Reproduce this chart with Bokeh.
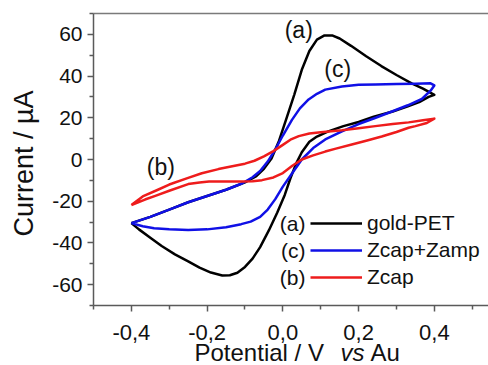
import math
from bokeh.plotting import figure
from bokeh.models import (Range1d, LinearAxis, FixedTicker, CustomJSTickFormatter,
                          Label, Legend, LegendItem)
from bokeh.embed import file_html
from bokeh.resources import INLINE

FONT = "Liberation Sans"

# ---------------- data ----------------
# gold-PET (a): forward scan then reverse scan
gold_v = [-0.40, -0.35, -0.30, -0.25, -0.20, -0.15, -0.10, -0.07, -0.05, -0.03, -0.01, 0.01,
          0.03, 0.05, 0.07, 0.09, 0.11, 0.13, 0.15, 0.18, 0.22, 0.26, 0.30, 0.34, 0.37, 0.40,
          0.385, 0.36, 0.33, 0.29, 0.24, 0.20, 0.16, 0.12, 0.09, 0.07, 0.05, 0.035, 0.02, 0.005,
          -0.015, -0.037, -0.06, -0.08, -0.10, -0.12, -0.14, -0.16, -0.19, -0.22, -0.25, -0.285,
          -0.32, -0.35, -0.38, -0.40]
gold_i = [-30.5, -27.5, -24.0, -20.5, -17.5, -14.5, -11.0, -8.0, -4.5, 0.5, 9.0, 20.0,
          31.0, 43.0, 52.0, 57.5, 59.5, 59.5, 58.0, 54.5, 49.5, 44.8, 40.5, 36.5, 34.0, 31.0,
          30.0, 27.5, 25.5, 23.0, 20.5, 18.0, 16.0, 13.5, 11.0, 8.5, 3.5, -2.0, -9.0, -17.0,
          -25.5, -34.0, -42.0, -47.5, -51.5, -54.3, -55.5, -55.6, -54.2, -51.8, -48.8, -45.5,
          -41.5, -37.5, -33.5, -30.5]

# Zcap+Zamp (c)
zcz_v = [-0.40, -0.35, -0.30, -0.25, -0.20, -0.15, -0.108, -0.08, -0.06, -0.04, -0.02, 0.0,
         0.024, 0.045, 0.068, 0.09, 0.112, 0.156, 0.20, 0.244, 0.30, 0.35, 0.39, 0.40,
         0.39, 0.367, 0.33, 0.288, 0.245, 0.20, 0.156, 0.112, 0.08, 0.05, 0.025, 0.0,
         -0.02, -0.04, -0.06, -0.085, -0.11, -0.15, -0.20, -0.25, -0.30, -0.34, -0.37, -0.40]
zcz_i = [-30.5, -27.5, -24.0, -20.5, -17.5, -14.5, -11.5, -8.5, -5.5, -1.0, 4.8, 11.5,
         19.0, 24.5, 28.8, 31.5, 33.5, 35.0, 35.8, 36.0, 36.2, 36.3, 36.5, 35.5,
         33.0, 29.0, 26.0, 23.0, 20.0, 17.0, 13.5, 9.6, 5.5, 0.0, -6.5, -13.0,
         -19.0, -24.0, -27.5, -29.8, -31.0, -32.5, -33.5, -33.8, -33.5, -33.0, -32.0, -30.5]

# Zcap (b)
zcap_v = [-0.40, -0.37, -0.33, -0.30, -0.25, -0.214, -0.17, -0.127, -0.10, -0.075, -0.05, -0.025,
          0.0, 0.02, 0.042, 0.07, 0.10, 0.156, 0.20, 0.244, 0.29, 0.332, 0.37, 0.40,
          0.38, 0.35, 0.332, 0.30, 0.261, 0.22, 0.182, 0.14, 0.112, 0.08, 0.05, 0.025, 0.0,
          -0.025, -0.055, -0.08, -0.108, -0.15, -0.195, -0.22, -0.25, -0.30, -0.335, -0.364, -0.40]
zcap_i = [-21.8, -17.7, -14.5, -12.0, -8.8, -6.6, -4.6, -3.0, -2.0, -0.6, 1.5, 4.0,
          7.0, 9.5, 11.2, 12.5, 13.1, 14.0, 15.0, 16.0, 17.0, 17.8, 18.8, 19.6,
          17.5, 16.0, 15.2, 13.2, 11.0, 9.0, 7.2, 5.2, 3.8, 2.0, 0.0, -3.0, -6.5,
          -8.6, -9.9, -10.4, -10.6, -10.6, -10.6, -11.0, -11.8, -15.0, -17.3, -19.2, -21.8]

x_major = [-0.4, -0.2, 0.0, 0.2, 0.4]
x_minor = [-0.5, -0.3, -0.1, 0.1, 0.3, 0.5]
y_major = [-60, -40, -20, 0, 20, 40, 60]
y_minor = [-70, -50, -30, -10, 10, 30, 50, 70]

# axis extents of the drawn box (data units)
x_lo, x_hi = -0.5, 0.543
y_lo, y_hi = -70, 70

series_names = ["gold-PET", "Zcap+Zamp", "Zcap"]
series_tags = ["(a)", "(c)", "(b)"]
series_colors = ["#000000", "#1010e6", "#ee1c1c"]

# annotation texts near the curves (data positions)
tag_x = [0.042, 0.145, -0.322]
tag_y = [61.9, 43.2, -3.8]

# ---------------- figure ----------------
W, H = 488, 365
BOX_L, BOX_T, BOX_B = 93, 13, 305          # pixel box of the axes
sx = (W - BOX_L) / (x_hi - x_lo)
sy = (BOX_B - BOX_T) / (y_hi - y_lo)

p = figure(width=W, height=H, output_backend="svg", toolbar_location=None,
           x_range=Range1d(x_lo - BOX_L / sx, x_hi),
           y_range=Range1d(y_lo - (H - BOX_B) / sy, y_hi + BOX_T / sy),
           x_axis_location=None, y_axis_location=None,
           min_border=0, min_border_left=0, min_border_right=0,
           min_border_top=0, min_border_bottom=0)
p.outline_line_color = None
p.xgrid.visible = False
p.ygrid.visible = False
p.background_fill_color = "white"
p.border_fill_color = "white"

AX = "#5a5a5a"


def style(ax):
    ax.axis_line_color = AX
    ax.axis_line_width = 1.5
    ax.major_tick_line_color = AX
    ax.minor_tick_line_color = AX
    ax.major_tick_line_width = 1.5
    ax.minor_tick_line_width = 1.5
    ax.major_tick_in = 0
    ax.major_tick_out = 6
    ax.minor_tick_in = 0
    ax.minor_tick_out = 4
    ax.major_label_text_font = FONT
    ax.major_label_text_color = "#111111"


xax = LinearAxis(fixed_location=y_lo, bounds=(x_lo, x_hi),
                 ticker=FixedTicker(ticks=x_major, minor_ticks=x_minor),
                 formatter=CustomJSTickFormatter(code="return tick.toFixed(1).replace('.', ',');"))
style(xax)
xax.major_label_text_font_size = "22px"
xax.major_label_standoff = 13
p.add_layout(xax, "below")

yax = LinearAxis(fixed_location=x_lo, bounds=(y_lo, y_hi),
                 ticker=FixedTicker(ticks=y_major, minor_ticks=y_minor),
                 formatter=CustomJSTickFormatter(code="return tick.toFixed(0);"))
style(yax)
yax.major_label_text_font_size = "21px"
yax.major_label_standoff = 5
p.add_layout(yax, "left")

top = LinearAxis(fixed_location=y_hi, bounds=(x_lo, x_hi), ticker=FixedTicker(ticks=[]),
                 axis_line_color="#7a7a7a", axis_line_width=1.5,
                 major_tick_line_color=None, minor_tick_line_color=None,
                 major_label_text_font_size="0px", major_label_standoff=0)
p.add_layout(top, "above")

renderers = []
for vx, iy, col in ((gold_v, gold_i, series_colors[0]),
                    (zcz_v, zcz_i, series_colors[1]),
                    (zcap_v, zcap_i, series_colors[2])):
    r = p.line(vx, iy, line_color=col, line_width=2.5, line_join="round")
    renderers.append(r)

legend = Legend(items=[LegendItem(label=n, renderers=[r]) for n, r in zip(series_names, renderers)],
                location=(310, 76), label_text_font=FONT, label_text_font_size="21px",
                label_text_color="#111111",
                glyph_width=52, glyph_height=24, label_height=24, spacing=3,
                label_standoff=5, padding=0, margin=0, border_line_color=None,
                background_fill_alpha=0)
p.add_layout(legend)

# legend prefixes
for k, t in enumerate(series_tags):
    p.add_layout(Label(x=305, y=H - 223 - 27 * k, x_units="screen", y_units="screen", text=t,
                       text_font=FONT, text_font_size="21px", text_color="#111111",
                       text_align="right", text_baseline="middle"))

# curve tags
for t, tx, ty in zip(series_tags, tag_x, tag_y):
    p.add_layout(Label(x=tx, y=ty, text=t, text_font=FONT, text_font_size="23px",
                       text_color="#111111", text_align="center", text_baseline="middle"))

# axis titles
p.add_layout(Label(x=23, y=H - 163, x_units="screen", y_units="screen", text="Current / µA",
                   angle=math.pi / 2, text_font=FONT, text_font_size="27px", text_color="#111111",
                   text_align="center", text_baseline="middle"))
TY = H - 352
p.add_layout(Label(x=194, y=TY, x_units="screen", y_units="screen", text="Potential / V",
                   text_font=FONT, text_font_size="24px", text_color="#111111",
                   text_align="left", text_baseline="middle"))
p.add_layout(Label(x=340, y=TY, x_units="screen", y_units="screen", text="vs",
                   text_font=FONT, text_font_size="24px", text_font_style="italic",
                   text_color="#111111", text_align="left", text_baseline="middle"))
p.add_layout(Label(x=370, y=TY, x_units="screen", y_units="screen", text="Au",
                   text_font=FONT, text_font_size="24px", text_color="#111111",
                   text_align="left", text_baseline="middle"))

open("out.html", "w").write(file_html(p, INLINE))
